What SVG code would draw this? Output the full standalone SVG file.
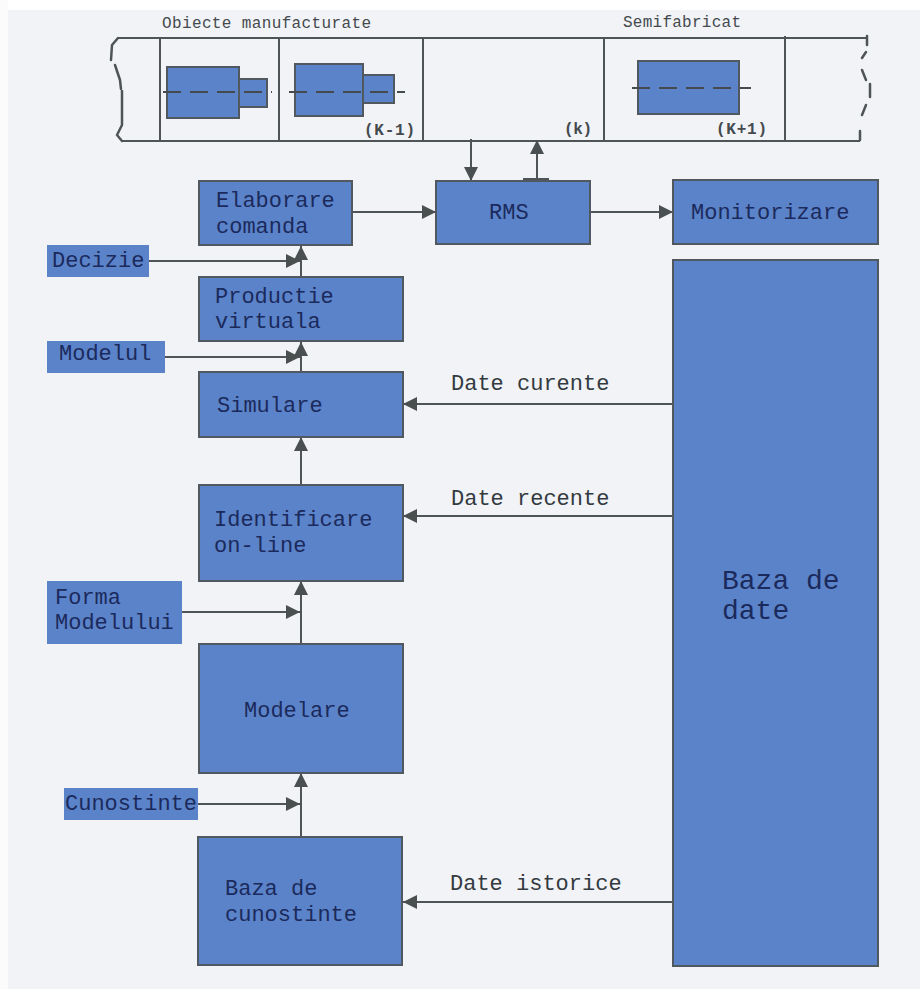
<svg xmlns="http://www.w3.org/2000/svg" width="920" height="989" viewBox="0 0 920 989">
<defs>
<marker id="a" markerUnits="userSpaceOnUse" markerWidth="16" markerHeight="16" refX="14" refY="7" orient="auto"><path d="M0,0L14,7L0,14Z" fill="#4a4f50"/></marker>
</defs>
<style>
.n{fill:#5b83c9;stroke:#51585f;stroke-width:2}
.s{fill:#5b83c9}
.t{font-family:"Liberation Mono",monospace;font-size:22px;fill:#1b2a5c}
.d{font-family:"Liberation Mono",monospace;font-size:22px;fill:#333a40}
.c{fill:none;stroke:#4f5456;stroke-width:2}
.w{fill:none;stroke:#4f5456;stroke-width:2.5;stroke-linecap:round;stroke-linejoin:round}
.a{marker-end:url(#a)}
.h{stroke:#454a4c;stroke-width:2;stroke-dasharray:18 9;fill:none}
.l{font-family:"Liberation Mono",monospace;font-size:16px;fill:#444a4e}
.k{font-family:"Liberation Mono",monospace;font-size:16px;font-weight:bold;fill:#444a4e}
</style>
<rect width="920" height="989" fill="#f1f3f7"/>
<rect width="920" height="10" fill="#fff"/>
<rect width="8" height="989" fill="#fbfbfc"/>
<g id="strip">
<path class="c" d="M118,38H867M122,141H860"/>
<path class="c" d="M160,38V141M279,38V142M423,38V141M604,37V140M785,36V140"/>
<path class="w" d="M118,38L112,45L111,60M115,65L120,80L121,89M122,91V125L117,135L122,141"/>
<path class="w" d="M867,36V45M866,52L862,58M862,70L866,80M870,84V97M866,105L862,115M860,131V140"/>
<text class="l" x="162" y="28" textLength="209">Obiecte manufacturate</text>
<text class="l" x="623" y="27" textLength="118">Semifabricat</text>
<text class="k" x="364" y="135" textLength="51">(K-1)</text>
<text class="k" x="564" y="134" textLength="28">(k)</text>
<text class="k" x="716" y="134" textLength="51">(K+1)</text>
<rect class="n" x="167" y="67" width="72" height="51"/>
<rect class="n" x="239" y="79" width="28" height="28"/>
<rect class="n" x="295" y="64" width="68" height="52"/>
<rect class="n" x="363" y="75" width="31" height="28"/>
<rect class="n" x="638" y="61" width="101" height="53"/>
<path class="h" d="M163,92H272"/>
<path class="h" d="M289,92H405"/>
<path class="h" d="M632,88H751"/>
</g>
<g id="connectors">
<path class="c a" d="M471,139V181"/>
<path class="c a" d="M537,179V140"/>
<path class="c" d="M523,179H549"/>
<path class="c a" d="M353,212H436"/>
<path class="c a" d="M591,212H673"/>
<path class="c a" d="M301,277V246"/>
<path class="c a" d="M149,261H300"/>
<path class="c a" d="M301,372V342"/>
<path class="c a" d="M165,357H300"/>
<path class="c a" d="M301,485V437"/>
<path class="c a" d="M301,644V581"/>
<path class="c a" d="M182,612H300"/>
<path class="c a" d="M301,837V773"/>
<path class="c a" d="M198,804H300"/>
<path class="c a" d="M673,404H403"/>
<path class="c a" d="M673,516H403"/>
<path class="c a" d="M673,902H403"/>
</g>
<g id="elaborare"><rect class="n" x="199" y="181" width="153" height="64"/><text class="t" x="216" y="207">Elaborare</text><text class="t" x="216" y="233">comanda</text></g>
<g id="rms"><rect class="n" x="436" y="181" width="154" height="63"/><text class="t" x="489" y="219">RMS</text></g>
<g id="monitorizare"><rect class="n" x="673" y="180" width="205" height="64"/><text class="t" x="691" y="219">Monitorizare</text></g>
<g id="decizie"><rect class="s" x="47" y="245" width="102" height="32"/><text class="t" x="52" y="267">Decizie</text></g>
<g id="productie"><rect class="n" x="199" y="277" width="204" height="64"/><text class="t" x="215" y="303">Productie</text><text class="t" x="215" y="328">virtuala</text></g>
<g id="modelul"><rect class="s" x="47" y="341" width="118" height="32"/><text class="t" x="59" y="360">Modelul</text></g>
<g id="simulare"><rect class="n" x="199" y="372" width="204" height="65"/><text class="t" x="217" y="412">Simulare</text></g>
<g id="identificare"><rect class="n" x="199" y="485" width="204" height="96"/><text class="t" x="214" y="526">Identificare</text><text class="t" x="214" y="552">on-line</text></g>
<g id="forma"><rect class="s" x="47" y="581" width="135" height="63"/><text class="t" x="55" y="604">Forma</text><text class="t" x="55" y="629">Modelului</text></g>
<g id="modelare"><rect class="n" x="199" y="644" width="204" height="129"/><text class="t" x="244" y="717">Modelare</text></g>
<g id="cunostinte"><rect class="s" x="64" y="788" width="134" height="32"/><text class="t" x="65" y="810">Cunostinte</text></g>
<g id="baza-cunostinte"><rect class="n" x="198" y="837" width="204" height="128"/><text class="t" x="225" y="895">Baza de</text><text class="t" x="225" y="921">cunostinte</text></g>
<g id="baza-date"><rect class="n" x="673" y="260" width="205" height="706"/><text class="t" style="font-size:28px" x="722" y="589">Baza de</text><text class="t" style="font-size:28px" x="722" y="619">date</text></g>
<text class="d" x="451" y="390">Date curente</text>
<text class="d" x="451" y="505">Date recente</text>
<text class="d" x="450" y="890">Date istorice</text>
</svg>
